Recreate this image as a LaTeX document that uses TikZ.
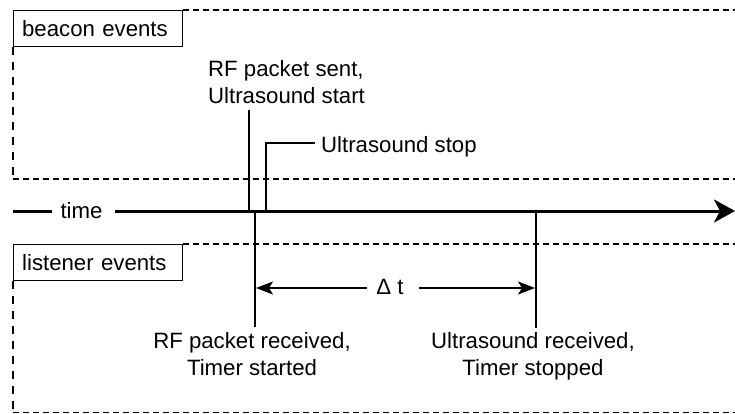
\documentclass[tikz,border=0pt]{standalone}
\usepackage{fontspec}
\setmainfont{Liberation Sans}
\usetikzlibrary{arrows.meta}
\begin{document}
\begin{tikzpicture}[x=1pt,y=-1pt,
  thinline/.style={line width=1.3pt},
  dashh/.style={line width=1.2pt, dash pattern=on 6pt off 4pt},
  dashv/.style={line width=1.2pt, dash pattern=on 8pt off 7pt},
  evbox/.style={draw, line width=1.3pt, anchor=north west, minimum width=169pt,
    minimum height=36pt, text width=152pt, inner xsep=8pt, inner ysep=0pt, align=left,
    font=\fontsize{22.2}{26}\selectfont},
  lbl/.style={font=\fontsize{22.2}{27}\selectfont, inner sep=0pt},
  timearrow/.style={line width=3pt},
  bigtip/.style={-{Stealth[length=21pt,width=23pt,inset=6pt]}},
  dtarrow/.style={thinline, -{Stealth[length=17pt,width=13pt,inset=4pt]}},
]
\useasboundingbox (0,0) rectangle (735,414);

% beacon region
\node[evbox] (bbox) at (13,10) {beacon events};
\coordinate (bTR) at (735,10);
\coordinate (bBL) at (13,179);
\coordinate (bBR) at (735,179);
\draw[dashh] (bbox.north east) -- (bTR);
\draw[dashv] (bbox.south west) -- (bBL);
\draw[dashh] (bBL) -- (bBR);

% listener region
\node[evbox] (lbox) at (13,244) {listener events};
\coordinate (lTR) at (735,244);
\coordinate (lBL) at (13,412.5);
\coordinate (lBR) at (735,412.5);
\draw[dashh] (lbox.north east) -- (lTR);
\draw[dashv] (lbox.south west) -- (lBL);
\draw[dashh] (lBL) -- (lBR);

% time axis
\coordinate (tA) at (13,211);
\coordinate (tB) at (52,211);
\node[lbl] (time) at (81.5,211) {time};
\coordinate (tC) at (115,211);
\coordinate (tEnd) at (735,211);
\draw[timearrow] (tA) -- (tB);
\draw[timearrow, bigtip] (tC) -- (tEnd);

% beacon events
\node[lbl, align=left, anchor=west] (rfsent) at (208,82) {RF packet sent,\\Ultrasound start};
\coordinate (rfTop) at (249,110);
\coordinate (rfBot) at (249,211);
\draw[thinline] (rfTop) -- (rfBot);

\node[lbl, anchor=west] (usstop) at (321,146.5) {Ultrasound stop};
\coordinate (usBot) at (266,211);
\coordinate (usEnd) at (315,143);
\draw[thinline] (usBot) |- (usEnd);

% listener events
\coordinate (rxTop) at (255,211);
\coordinate (rxBot) at (255,327);
\coordinate (usrTop) at (536,211);
\coordinate (usrBot) at (536,328);
\draw[thinline] (rxTop) -- (rxBot);
\draw[thinline] (usrTop) -- (usrBot);

\node[lbl, align=center] (rxlbl) at (252,354) {RF packet received,\\Timer started};
\node[lbl, align=center] (usrlbl) at (533,356) {Ultrasound received,\\Timer stopped};

% delta t
\node[lbl] (dt) at (390,287) {Δ t};
\coordinate (dl) at (256,288);
\coordinate (dr) at (535,288);
\draw[dtarrow] ([xshift=-9pt]dt.west |- dl) -- (dl);
\draw[dtarrow] ([xshift=15pt]dt.east |- dr) -- (dr);
\end{tikzpicture}
\end{document}
